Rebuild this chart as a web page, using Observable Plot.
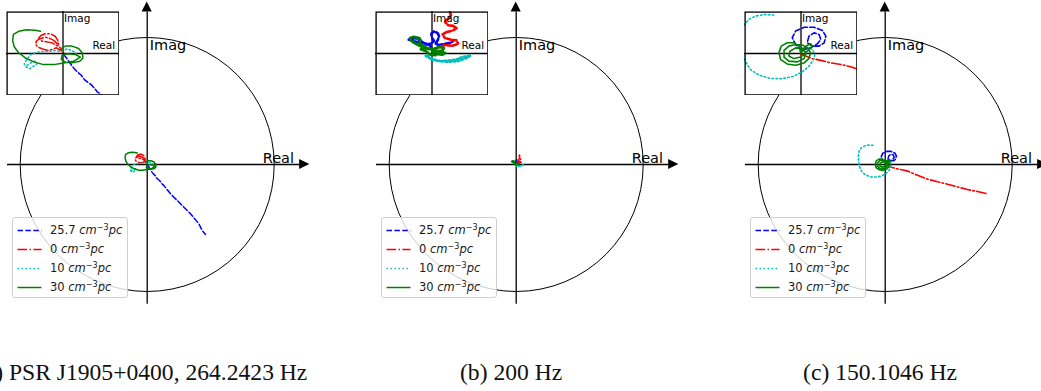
<!DOCTYPE html>
<html><head><meta charset="utf-8">
<script src="https://cdn.jsdelivr.net/npm/d3@7"></script>
<script src="https://cdn.jsdelivr.net/npm/@observablehq/plot@0.6"></script>
<style>
html,body{margin:0;padding:0;background:#fff;overflow:hidden}
#fig{position:relative;width:1041px;height:391px;overflow:hidden;font-family:"DejaVu Sans",sans-serif;color:#000}
.panel{position:absolute;top:0;width:369px;height:391px}
.main{position:absolute;left:0;top:0}
.inset{position:absolute;left:6px;top:10.7px;width:113px;height:84px;overflow:hidden;background:#fff}
.legend{position:absolute;left:12.3px;top:216.7px;width:115.4px;height:81px;box-sizing:border-box;border:1px solid #d0d0d0;border-radius:3px;background:rgba(255,255,255,0.8)}
.row{position:absolute;left:0;height:19px;width:113px}
.row svg{position:absolute;left:3.4px;top:0}
.row span{position:absolute;left:36.7px;top:0;line-height:19px;font-size:11.5px;white-space:nowrap;color:#1a1a1a}
.row sup{font-size:0.7em;vertical-align:0.5em;line-height:0}
.caption{position:absolute;top:361.2px;font-family:"Liberation Serif","Times New Roman",serif;font-size:23.6px;line-height:1;white-space:nowrap;transform:translateX(-50%);color:#111}
</style></head>
<body><div id="fig"></div>
<script>
// ---- series definitions (legend order) ----
const seriesNames = ["25.7", "0", "10", "30"];
const seriesColors = ["#0000ff", "#ff0000", "#00bfbf", "#008000"];
const seriesDash = ["5.5,2.4", "9.6,2.4,1.5,2.4", "1.5,2.5", null];
const captions = ["(a) PSR J1905+0400, 264.2423 Hz", "(b) 200 Hz", "(c) 150.1046 Hz"];
const axisLabels = ["Real", "Imag"];
// inset half-extents (real, imag) per panel
const insetRe = [0.195, 0.08, 0.2];
const insetIm = [0.17, 0.07, 0.165];
// line width per panel (panel b traces are dense scribbles)
const panelLineWidth = [1.5, 2.6, 1.6];
// main axes limits and arrow heads
const axisLimits = [-1.1, 1.2];
const arrowHead = [1.2, 1.28, 0.04];

// ---- panel (a) values [real, imag] ----
const a_dm257 = [[0.002,-0.004],[0.010,-0.015],[0.020,-0.031],[0.029,-0.047],[0.039,-0.062],[0.051,-0.076],[0.063,-0.088],[0.075,-0.107],[0.085,-0.116],[0.097,-0.126],[0.110,-0.142],[0.118,-0.155],[0.129,-0.163],[0.184,-0.231],[0.236,-0.283],[0.289,-0.336],[0.341,-0.388],[0.381,-0.436],[0.407,-0.467],[0.420,-0.493],[0.433,-0.520],[0.459,-0.551]];
const a_dm0 = [[-0.002,0.007],[-0.012,0.016],[-0.023,0.023],[-0.038,0.016],[-0.055,0.013],[-0.073,0.019],[-0.088,0.027],[-0.095,0.039],[-0.090,0.053],[-0.076,0.061],[-0.061,0.066],[-0.046,0.061],[-0.032,0.053],[-0.023,0.043],[-0.015,0.034],[-0.018,0.053],[-0.027,0.070],[-0.044,0.080],[-0.061,0.080],[-0.076,0.073],[-0.084,0.063],[-0.073,0.050],[-0.055,0.047],[-0.038,0.043],[-0.027,0.036],[-0.012,0.026],[-0.002,0.012]];
const a_dm10 = [[0.048,-0.004],[0.039,0.007],[0.028,0.013],[0.014,0.019],[0.002,0.012],[-0.009,0.009],[-0.027,0.012],[-0.044,0.009],[-0.061,0.009],[-0.078,0.007],[-0.096,0.003],[-0.111,-0.004],[-0.119,-0.015],[-0.127,-0.028],[-0.134,-0.042],[-0.127,-0.055],[-0.115,-0.062],[-0.101,-0.051],[-0.090,-0.042],[-0.096,-0.031],[-0.107,-0.035],[-0.119,-0.045],[-0.130,-0.051]];
const a_dm30 = [[0.002,0.009],[-0.003,0.023],[0.008,0.030],[0.031,0.030],[0.054,0.020],[0.066,0.003],[0.069,-0.018],[0.058,-0.031],[0.031,-0.038],[0.008,-0.035],[-0.006,-0.024],[-0.003,-0.007],[0.014,-0.001],[0.043,-0.004],[0.060,-0.015],[0.037,-0.031],[0.002,-0.038],[-0.032,-0.045],[-0.067,-0.045],[-0.101,-0.034],[-0.130,-0.018],[-0.153,0.003],[-0.168,0.026],[-0.174,0.053],[-0.171,0.077],[-0.153,0.090],[-0.125,0.096],[-0.096,0.094],[-0.078,0.090]];

// ---- panel (b) values ----
const b_dm257 = [[0.001,0.004],[-0.002,0.012],[-0.007,0.016],[-0.014,0.018],[-0.021,0.019],[-0.028,0.022],[-0.033,0.023],[-0.028,0.026],[-0.021,0.025],[-0.016,0.021],[-0.009,0.015],[-0.002,0.016],[0.003,0.021],[0.000,0.026],[-0.001,0.033],[0.003,0.037],[0.008,0.034],[0.010,0.029],[0.008,0.022],[0.005,0.016],[0.010,0.014],[0.017,0.016],[0.027,0.018],[0.031,0.022]];
const b_dm0 = [[0.001,0.003],[0.006,0.008],[0.012,0.012],[0.019,0.014],[0.029,0.013],[0.037,0.016],[0.035,0.022],[0.027,0.023],[0.018,0.026],[0.015,0.032],[0.021,0.036],[0.029,0.038],[0.035,0.042],[0.030,0.046],[0.023,0.047],[0.018,0.053],[0.023,0.058],[0.027,0.064],[0.025,0.069],[0.026,0.073]];
const b_dm10 = [[-0.009,-0.004],[0.000,-0.010],[0.010,-0.013],[0.022,-0.012],[0.034,-0.010],[0.043,-0.006],[0.055,-0.003],[0.050,-0.007],[0.036,-0.013],[0.022,-0.014],[0.008,-0.012],[-0.002,-0.008],[-0.007,-0.002]];
const b_dm30 = [[0.001,0.001],[0.008,0.004],[0.015,0.005],[0.017,0.009],[0.010,0.011],[0.003,0.008],[-0.004,0.007],[-0.011,0.009],[-0.016,0.012],[-0.021,0.015],[-0.026,0.018],[-0.030,0.022],[-0.031,0.026],[-0.026,0.028],[-0.018,0.026],[-0.016,0.022],[-0.018,0.018],[-0.014,0.014],[-0.007,0.009],[0.000,0.007],[0.008,-0.001],[0.015,-0.002],[0.019,0.001],[0.012,0.003],[0.005,-0.003],[-0.002,-0.002],[-0.009,0.004],[-0.016,0.007]];

// ---- panel (c) values ----
const c_dm257 = [[0.005,0.009],[-0.019,0.035],[-0.031,0.062],[-0.019,0.088],[0.011,0.103],[0.046,0.103],[0.076,0.090],[0.088,0.068],[0.082,0.042],[0.064,0.029],[0.040,0.029],[0.022,0.042],[0.028,0.068],[0.046,0.081],[0.064,0.075],[0.070,0.055],[0.058,0.038],[0.034,0.022],[0.011,0.016],[-0.007,0.022]];
const c_dm0 = [[0.000,-0.004],[0.017,-0.010],[0.040,-0.020],[0.070,-0.027],[0.105,-0.037],[0.141,-0.043],[0.176,-0.052],[0.255,-0.085],[0.333,-0.115],[0.412,-0.136],[0.491,-0.155],[0.570,-0.177],[0.648,-0.197],[0.727,-0.213],[0.806,-0.231]];
const c_dm10 = [[-0.096,0.151],[-0.131,0.153],[-0.161,0.147],[-0.185,0.134],[-0.205,0.107],[-0.212,0.062],[-0.208,0.016],[-0.198,-0.030],[-0.179,-0.063],[-0.149,-0.085],[-0.108,-0.098],[-0.066,-0.099],[-0.027,-0.090],[0.005,-0.072],[0.028,-0.050],[0.044,-0.024],[0.049,-0.004],[0.040,0.016],[0.022,0.025],[0.005,0.020],[-0.004,0.007]];
const c_dm30 = [[0.000,0.000],[-0.007,0.029],[-0.025,0.042],[-0.049,0.042],[-0.070,0.029],[-0.078,0.003],[-0.072,-0.024],[-0.049,-0.041],[-0.019,-0.046],[0.011,-0.037],[0.028,-0.020],[0.034,0.003],[0.022,0.022],[0.005,0.033],[-0.019,0.035],[-0.043,0.029],[-0.060,0.012],[-0.060,-0.014],[-0.043,-0.030],[-0.013,-0.033],[0.011,-0.020],[0.017,0.003],[0.005,0.020],[-0.019,0.022],[-0.039,0.009],[-0.043,-0.010],[-0.025,-0.020],[-0.001,-0.014],[0.022,0.009],[0.040,0.029],[0.034,0.038],[0.017,0.029],[0.005,0.009]];

const panelSeries = [
  [a_dm257, a_dm0, a_dm10, a_dm30],
  [b_dm257, b_dm0, b_dm10, b_dm30],
  [c_dm257, c_dm0, c_dm10, c_dm30]
];

// ---- layout ----
const PANEL_W = 369, PPU = 127, CX = 146.7, CY = 164;
const fig = document.getElementById("fig");

function seriesMarks(series, clip, lw) {
  return series.map((data, i) => Plot.line(data, {
    x: d => d[0], y: d => d[1],
    stroke: seriesColors[i], strokeWidth: lw,
    strokeDasharray: seriesDash[i] ?? undefined,
    strokeLinejoin: "round", clip
  }));
}

panelSeries.forEach((series, p) => {
  const panel = document.createElement("div");
  panel.className = "panel";
  panel.style.left = (p * PANEL_W) + "px";
  fig.appendChild(panel);

  const main = Plot.plot({
    width: PANEL_W, height: 312, margin: 0,
    style: {background: "transparent", fontFamily: "DejaVu Sans", overflow: "visible"},
    x: {domain: [-1.1, 1.3], range: [CX - 1.1 * PPU, CX + 1.3 * PPU], axis: null},
    y: {domain: [-1.1, 1.3], range: [CY + 1.1 * PPU, CY - 1.3 * PPU], axis: null},
    marks: [
      Plot.dot([{re: 0, im: 0}], {x: "re", y: "im", r: PPU, stroke: "black", strokeWidth: 1, fill: "none"}),
      Plot.ruleY([0], {x1: axisLimits[0], x2: axisLimits[1], stroke: "black", strokeWidth: 1.3}),
      Plot.ruleX([0], {y1: axisLimits[0], y2: axisLimits[1], stroke: "black", strokeWidth: 1.3}),
      Plot.areaY([{x: arrowHead[0], y1: -arrowHead[2], y2: arrowHead[2]}, {x: arrowHead[1], y1: 0, y2: 0}],
        {x: "x", y1: "y1", y2: "y2", fill: "black"}),
      Plot.areaX([{y: arrowHead[0], x1: -arrowHead[2], x2: arrowHead[2]}, {y: arrowHead[1], x1: 0, x2: 0}],
        {y: "y", x1: "x1", x2: "x2", fill: "black"}),
      Plot.text([{re: 0.02, im: 0.9, t: axisLabels[1]}, {re: 0.91, im: 0.01, t: axisLabels[0]}],
        {x: "re", y: "im", text: "t", textAnchor: "start", lineAnchor: "bottom", fontSize: 14.5, fill: "black"}),
      ...seriesMarks(series, false, Math.min(panelLineWidth[p], 1.8))
    ]
  });
  main.classList.add("main");
  panel.appendChild(main);

  const insetBox = document.createElement("div");
  insetBox.className = "inset";
  panel.appendChild(insetBox);
  const inset = Plot.plot({
    width: 113, height: 84, margin: 0,
    style: {background: "white", fontFamily: "DejaVu Sans"},
    x: {domain: [-insetRe[p], insetRe[p]], axis: null},
    y: {domain: [-insetIm[p], insetIm[p]], axis: null},
    marks: [
      Plot.ruleX([0], {stroke: "black", strokeWidth: 1.3}),
      Plot.ruleY([0], {stroke: "black", strokeWidth: 1.3}),
      ...seriesMarks(series, true, panelLineWidth[p]),
      Plot.text([axisLabels[1]], {text: d => d, frameAnchor: "top", dx: 1, dy: 10, textAnchor: "start", lineAnchor: "bottom", fontSize: 10.5, fill: "black"}),
      Plot.text([axisLabels[0]], {text: d => d, frameAnchor: "right", dx: -27, dy: -4.5, textAnchor: "start", lineAnchor: "bottom", fontSize: 10.5, fill: "black"}),
      Plot.frame({stroke: "black", strokeWidth: 1.3, inset: 0.6})
    ]
  });
  insetBox.appendChild(inset);

  const legend = document.createElement("div");
  legend.className = "legend";
  seriesNames.forEach((name, i) => {
    const row = document.createElement("div");
    row.className = "row";
    row.style.top = (3.1 + i * 19.1) + "px";
    const dash = seriesDash[i] ? `stroke-dasharray="${seriesDash[i]}"` : "";
    row.innerHTML = `<svg width="26" height="19"><line x1="0.5" x2="24.5" y1="9.5" y2="9.5" stroke="${seriesColors[i]}" stroke-width="1.5" ${dash}/></svg>` +
      `<span>${name} <i>cm</i><sup>−3</sup><i>pc</i></span>`;
    legend.appendChild(row);
  });
  panel.appendChild(legend);

  const cap = document.createElement("div");
  cap.className = "caption";
  cap.style.left = (CX - 4.6) + "px";
  cap.textContent = captions[p];
  panel.appendChild(cap);
});
</script>
</body></html>
